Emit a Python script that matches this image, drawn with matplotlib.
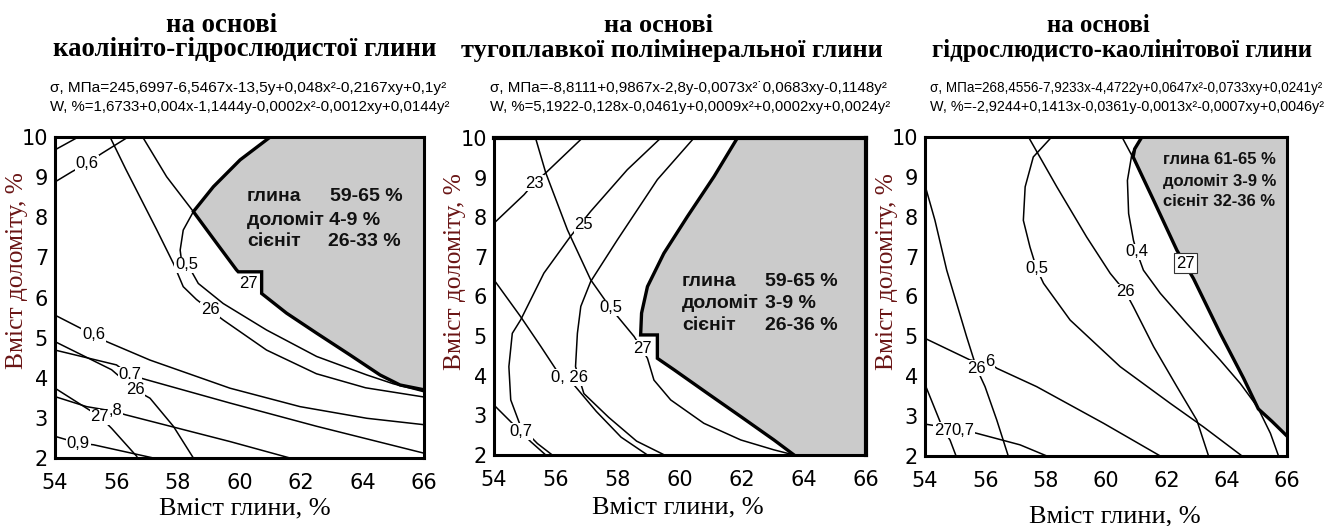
import matplotlib
matplotlib.use("Agg")
import matplotlib.pyplot as plt

# ---------------- panel A: kaolinite-hydromica clay ----------------
a_zone_x = [61.0, 60.02, 59.15, 58.5, 59.26, 59.9, 59.96, 60.72, 60.72, 61.53, 62.51, 63.59, 64.57, 65.22, 66.0]
a_zone_y = [10.0, 9.43, 8.76, 8.14, 7.35, 6.69, 6.64, 6.64, 6.1, 5.61, 5.11, 4.57, 4.07, 3.82, 3.7]
a_s27_x = [56.85, 57.63, 58.5]
a_s27_y = [10.0, 9.01, 8.14]
a_s26_x = [55.79, 56.3, 56.76, 57.3, 57.85, 58.17, 58.6, 59.04, 59.47, 60.88, 62.5, 64.1, 66.0]
a_s26_y = [10.0, 9.2, 8.51, 7.7, 6.85, 6.27, 5.95, 5.69, 5.44, 4.69, 4.1, 3.75, 3.52]
a_w05_x = [58.5, 58.17, 58.07, 58.12, 58.33, 58.66, 59.47, 60.88, 62.51, 64.14, 65.0, 66.0]
a_w05_y = [8.14, 7.68, 7.18, 6.89, 6.8, 6.35, 5.85, 5.19, 4.53, 4.07, 3.85, 3.65]
a_corner_x = [54.0, 54.76]
a_corner_y = [9.68, 10.0]
a_w06t_x = [54.0, 54.54, 55.05, 55.52, 56.38]
a_w06t_y = [8.88, 9.13, 9.35, 9.59, 10.0]
a_w06_x = [54.0, 55.25, 55.68, 57.09, 59.69, 61.97, 64.14, 66.0]
a_w06_y = [5.56, 5.07, 4.90, 4.44, 3.74, 3.28, 2.99, 2.83]
a_s26b_x = [54.0, 55.84, 56.6, 57.09, 57.85, 58.5]
a_s26b_y = [4.90, 4.2, 3.70, 3.49, 2.79, 2.0]
a_w07_x = [54.0, 56.0, 56.44, 56.98, 59.69, 62.51, 66.0]
a_w07_y = [4.69, 4.32, 4.07, 3.95, 3.37, 2.79, 2.12]
a_w08_x = [54.0, 55.03, 55.95, 56.28, 59.69, 61.64]
a_w08_y = [3.53, 3.28, 3.16, 3.08, 2.41, 2.0]
a_s27b_x = [54.0, 55.46, 55.84, 56.66]
a_s27b_y = [3.74, 3.03, 2.74, 2.04]
a_w09_x = [54.0, 54.76, 55.25, 57.2]
a_w09_y = [2.54, 2.37, 2.33, 2.0]
a_labels = [("0,6", 55.05, 9.35), ("0,5", 58.28, 6.81), ("26", 59.04, 5.69),
            ("0,6", 55.25, 5.07), ("0.7", 56.44, 4.07), ("26", 56.6, 3.70),
            (",8", 55.97, 3.18), ("27", 55.46, 3.03), ("0,9", 54.76, 2.37)]

# ---------------- panel B: refractory polymineral clay ----------------
b_zone_x = [61.85, 61.10, 60.24, 59.48, 58.95, 58.76, 58.73, 59.27, 59.27, 59.81, 60.88, 61.96, 63.03, 63.68]
b_zone_y = [10.0, 9.03, 8.02, 7.09, 6.25, 5.58, 5.03, 5.03, 4.44, 4.15, 3.56, 2.97, 2.38, 2.0]
b_w05_x = [55.34, 55.67, 56.37, 57.12, 57.76, 58.52, 58.95, 59.16, 59.70, 60.77, 61.96, 63.03, 63.68]
b_w05_y = [10.0, 9.12, 7.68, 6.42, 5.71, 4.99, 4.44, 3.89, 3.39, 2.80, 2.38, 2.13, 2.0]
b_s23_x = [54.0, 54.97, 55.29, 55.67, 56.85]
b_s23_y = [7.85, 8.57, 8.86, 9.12, 10.0]
b_s25_x = [59.38, 58.30, 57.12, 56.47, 55.61, 54.86, 54.59, 54.48, 54.54, 54.86, 55.40, 55.88]
b_s25_y = [10.0, 9.2, 8.15, 7.52, 6.59, 5.41, 5.07, 4.23, 3.39, 2.72, 2.29, 2.0]
b_s26_x = [60.45, 59.27, 57.98, 57.12, 56.80, 56.69, 56.63, 56.9, 57.7, 58.6, 59.5]
b_s26_y = [10.0, 8.95, 7.43, 6.38, 5.75, 5.07, 4.23, 3.55, 2.95, 2.35, 2.0]
b_w06_x = [54.0, 54.86, 55.51, 56.15, 56.6, 57.3, 58.1, 58.95]
b_w06_y = [6.42, 5.49, 4.74, 3.98, 3.75, 3.1, 2.45, 2.0]
b_w07_x = [54.0, 54.86, 55.18, 55.67]
b_w07_y = [3.26, 2.59, 2.34, 2.0]
b_labels = [("23", 55.29, 8.86), ("25", 56.90, 7.81), ("0,5", 57.76, 5.71),
            ("27", 58.78, 4.70), ("0, 26", 56.45, 3.96), ("0,7", 54.86, 2.59)]

# ---------------- panel C: hydromica-kaolinite clay ----------------
c_zone_x = [61.19, 60.95, 60.9, 61.58, 62.35, 62.90, 63.79, 64.56, 65.05, 65.5, 66.0]
c_zone_y = [10.0, 9.7, 9.5, 8.41, 7.16, 6.45, 5.07, 3.95, 3.18, 2.87, 2.5]
c_s27_x = [60.53, 60.91, 61.58, 62.35, 62.90, 63.79, 64.56, 65.06, 65.45, 65.72]
c_s27_y = [10.0, 9.46, 8.41, 7.16, 6.45, 5.07, 3.95, 3.17, 2.57, 2.0]
c_w04_x = [61.19, 60.86, 60.71, 60.75, 60.91, 61.02, 61.24, 61.80, 62.68, 63.79, 64.45, 65.06, 65.5, 66.0]
c_w04_y = [10.0, 9.58, 8.91, 8.08, 7.41, 7.12, 6.66, 6.08, 5.32, 4.40, 3.82, 3.19, 2.87, 2.5]
c_w05_x = [58.20, 57.59, 57.32, 57.26, 57.48, 57.70, 57.93, 58.81, 60.47, 62.13, 63.23, 64.51]
c_w05_y = [10.0, 9.5, 8.75, 7.91, 7.24, 6.70, 6.33, 5.41, 4.24, 3.32, 2.73, 2.0]
c_s26_x = [57.43, 58.37, 59.36, 60.14, 60.64, 60.91, 61.58, 62.35, 63.01, 63.40]
c_s26_y = [10.0, 8.75, 7.49, 6.58, 6.12, 5.74, 4.74, 3.74, 2.90, 2.0]
c_s26b_x = [54.0, 54.33, 54.72, 55.38, 55.71, 55.99, 56.38, 56.76]
c_s26b_y = [8.79, 7.91, 6.66, 4.99, 4.2, 3.74, 2.90, 2.0]
c_w06_x = [54.0, 55.49, 56.16, 56.38, 57.70, 59.92, 61.80]
c_w06_y = [4.95, 4.41, 4.32, 4.2, 3.74, 2.82, 2.0]
c_s27b_x = [54.03, 54.50, 54.61, 54.83, 55.03]
c_s27b_y = [3.74, 2.86, 2.65, 2.40, 2.0]
c_w07_x = [54.0, 55.27, 55.71, 57.15, 58.04]
c_w07_y = [2.80, 2.65, 2.57, 2.28, 2.0]
c_labels = [("0,5", 57.70, 6.70), ("0,4", 61.02, 7.12), ("26", 60.64, 6.12),
            ("26", 55.71, 4.20), ("6", 56.15, 4.38), ("27", 54.61, 2.65), ("0,7", 55.27, 2.65)]

x_ticks = [54, 56, 58, 60, 62, 64, 66]
y_ticks = [2, 3, 4, 5, 6, 7, 8, 9, 10]

W, H = 1330, 526
fig = plt.figure(figsize=(W / 100, H / 100), dpi=100)


def px_rect(l, t, r, b):
    return [l / W, 1 - b / H, (r - l) / W, (b - t) / H]


def line(ax, xs, ys, lw=1.1):
    ax.plot(xs, ys, color="black", lw=lw, solid_joinstyle="round", zorder=3)


def zone(ax, xs, ys, cx, cy):
    # shaded optimum area, closed along the plot frame
    ax.fill(xs + cx, ys + cy, color="#cbcbcb", lw=0, zorder=1)
    ax.plot(xs, ys, color="black", lw=2.4, solid_joinstyle="miter", zorder=4)


def labels(ax, items):
    for s, x, y in items:
        ax.text(x, y, s, ha="center", va="center", fontsize=12,
                family="Liberation Sans", zorder=6,
                bbox=dict(boxstyle="square,pad=0.04", fc="white", ec="none"))


def frame(ax, xl, yl):
    ax.set_xlim(54, 66)
    ax.set_ylim(2, 10)
    ax.set_xticks(x_ticks)
    ax.set_yticks(y_ticks)
    ax.tick_params(length=0, labelsize=15)
    ax.tick_params(axis="x", pad=11)
    ax.tick_params(axis="y", pad=5)
    for t in ax.get_xticklabels() + ax.get_yticklabels():
        t.set_family("DejaVu Sans")
    for sp in ax.spines.values():
        sp.set_linewidth(2.2)
        sp.set_zorder(7)
    ax.text(xl[0], xl[1], "Вміст глини, %", transform=ax.transAxes,
            ha="center", va="center", fontsize=19, family="Liberation Serif")
    ax.text(yl[0], yl[1], "Вміст доломіту, %", transform=ax.transAxes, rotation=90,
            ha="center", va="center", fontsize=18.3, family="Liberation Serif",
            color="#6a1515")


def zone_text(ax, rows, size=14):
    for s, x, y in rows:
        ax.text(x, y, s, transform=ax.transAxes, ha="left", va="center",
                fontsize=size, fontweight="bold", family="Liberation Sans",
                color="#111111", zorder=8)


def header(cx1, cx2, line1, line2, tsize, eq_x, eq1, eq2, esize):
    fig.text(cx1 / W, 1 - 25 / H, line1, ha="center", va="center", fontsize=tsize,
             fontweight="bold", family="Liberation Serif")
    fig.text(cx2 / W, 1 - 50 / H, line2, ha="center", va="center", fontsize=tsize,
             fontweight="bold", family="Liberation Serif")
    fig.text(eq_x / W, 1 - 88 / H, eq1, ha="left", va="center", fontsize=esize[0],
             family="Liberation Sans")
    fig.text(eq_x / W, 1 - 107 / H, eq2, ha="left", va="center", fontsize=esize[1],
             family="Liberation Sans")


# panel A
ax1 = fig.add_axes(px_rect(55, 137, 424, 458))
zone(ax1, a_zone_x, a_zone_y, [66.0], [10.0])
for xs, ys in [(a_s27_x, a_s27_y), (a_s26_x, a_s26_y), (a_w05_x, a_w05_y),
               (a_corner_x, a_corner_y), (a_w06t_x, a_w06t_y), (a_w06_x, a_w06_y),
               (a_s26b_x, a_s26b_y), (a_w07_x, a_w07_y), (a_w08_x, a_w08_y),
               (a_s27b_x, a_s27b_y), (a_w09_x, a_w09_y)]:
    line(ax1, xs, ys)
labels(ax1, a_labels)
ax1.text(60.3, 6.35, "27", ha="center", va="center", fontsize=12,
         family="Liberation Sans", zorder=6)
frame(ax1, (0.515, -0.156), (-0.102, 0.585))
zone_text(ax1, [("глина", 0.52, 0.814), ("59-65 %", 0.745, 0.814),
                ("доломіт 4-9 %", 0.52, 0.741),
                ("сієніт", 0.52, 0.674), ("26-33 %", 0.740, 0.674)])

# panel B
ax2 = fig.add_axes(px_rect(494, 138, 866, 455))
zone(ax2, b_zone_x, b_zone_y, [66.0, 66.0], [2.0, 10.0])
for xs, ys in [(b_w05_x, b_w05_y), (b_s23_x, b_s23_y), (b_s25_x, b_s25_y),
               (b_s26_x, b_s26_y), (b_w06_x, b_w06_y), (b_w07_x, b_w07_y)]:
    line(ax2, xs, ys)
labels(ax2, b_labels)
frame(ax2, (0.495, -0.167), (-0.105, 0.58))
ax2.spines["top"].set_linewidth(3.0)
ax2.spines["right"].set_linewidth(3.0)
zone_text(ax2, [("глина", 0.505, 0.547), ("59-65 %", 0.728, 0.547),
                ("доломіт", 0.505, 0.479), ("3-9 %", 0.728, 0.479),
                ("сієніт", 0.505, 0.41), ("26-36 %", 0.728, 0.41)])

# panel C
ax3 = fig.add_axes(px_rect(925, 137, 1287, 456))
zone(ax3, c_zone_x, c_zone_y, [66.0], [10.0])
for xs, ys in [(c_s27_x, c_s27_y), (c_w04_x, c_w04_y), (c_w05_x, c_w05_y),
               (c_s26_x, c_s26_y), (c_s26b_x, c_s26b_y), (c_w06_x, c_w06_y),
               (c_s27b_x, c_s27b_y), (c_w07_x, c_w07_y)]:
    line(ax3, xs, ys)
labels(ax3, c_labels)
ax3.text(62.63, 6.83, "27", ha="center", va="center", fontsize=12, zorder=6,
         family="Liberation Sans",
         bbox=dict(boxstyle="square,pad=0.15", fc="white", ec="#333333", lw=0.8))
frame(ax3, (0.525, -0.191), (-0.105, 0.578))
zone_text(ax3, [("глина 61-65 %", 0.658, 0.928), ("доломіт 3-9 %", 0.658, 0.86),
                ("сієніт 32-36 %", 0.658, 0.797)], size=12)

header(222, 245, "на основі", "каолініто-гідрослюдистої глини", 19.3, 50,
       "σ, МПа=245,6997-6,5467x-13,5y+0,048x²-0,2167xy+0,1y²",
       "W, %=1,6733+0,004x-1,1444y-0,0002x²-0,0012xy+0,0144y²", (11.1, 10.8))
header(658, 672, "на основі", "тугоплавкої полімінеральної глини", 19.0, 490,
       "σ, МПа=-8,8111+0,9867x-2,8y-0,0073x²˙0,0683xy-0,1148y²",
       "W, %=5,1922-0,128x-0,0461y+0,0009x²+0,0002xy+0,0024y²", (10.9, 10.7))
header(1098, 1122, "на основі", "гідрослюдисто-каолінітової глини", 17.9, 930,
       "σ, МПа=268,4556-7,9233x-4,4722y+0,0647x²-0,0733xy+0,0241y²",
       "W, %=-2,9244+0,1413x-0,0361y-0,0013x²-0,0007xy+0,0046y²", (9.72, 10.4))

fig.savefig("out.png", dpi=100, facecolor="white")
